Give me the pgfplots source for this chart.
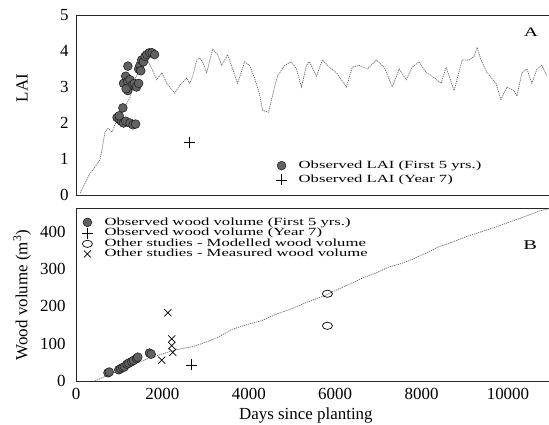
\documentclass[border=0pt]{standalone}
\usepackage{fontspec}
\setmainfont{Liberation Serif}
\newfontfamily\legfont[FakeStretch=1.52]{Liberation Serif}
\usepackage{pgfplots}
\pgfplotsset{compat=1.18}

\newcommand{\leggap}{\hspace*{11bp}}

\pgfplotsset{
  panel/.style={
    scale only axis, width=473bp, xmin=0, xmax=10950,
    axis line style={black!85, line width=0.9bp},
    major tick length=0pt,
    scaled x ticks=false,
    tick label style={font=\fontsize{17}{17}\selectfont},
    /pgf/number format/assume math mode=true,
    /pgf/number format/set thousands separator={},
    label style={font=\fontsize{17}{17}\selectfont},
    legend cell align=left,
    legend style={draw=none, fill=none, inner sep=0pt, outer sep=0pt,
      font=\legfont\fontsize{11}{10.5}\selectfont,
      nodes={text height=7bp, text depth=1.5bp, inner sep=0.6bp}},
  },
  model/.style={black!60, line width=0.7bp, dash pattern=on 1.2bp off 0.9bp, forget plot},
  obsdot/.style={only marks, mark=*, mark size=4.4bp,
    mark options={fill=black!62, draw=black!90, line width=0.5bp}},
  obsplus/.style={only marks, mark=+, mark size=5.5bp, mark options={black, line width=0.7bp}},
}

\begin{document}
\begin{tikzpicture}
\useasboundingbox (0,0) rectangle (549bp,425bp);

% ---- A: LAI ----
\begin{axis}[panel, at={(76bp,230bp)}, anchor=south west, height=180bp,
  ymin=0, ymax=5, ytick={0,1,2,3,4,5}, xtick=\empty,
  yticklabel style={xshift=-4bp},
  ylabel={LAI},
  ylabel style={at={(axis description cs:-0.114,0.594)}, anchor=center},
  legend style={at={(rel axis cs:0.423,0.19)}, anchor=north west, row sep=4bp},
]
\addplot[model] coordinates {
  (92,0.05) (323,0.6) (393,0.7) (554,0.97) (600,1.25) (670,1.75) (739,1.85)
  (831,1.75) (901,1.95) (1062,2.3) (1247,2.7) (1293,3.1) (1524,3.55) (1640,3.8)
  (1755,3.5) (1871,3.2) (1986,3.4) (2102,3.1) (2286,2.83) (2402,3.05) (2564,3.25)
  (2633,3.1) (2702,3.3) (2794,3.75) (2864,3.8) (2933,3.7) (3025,3.4) (3164,4.05)
  (3279,3.9) (3372,3.6) (3510,3.9) (3626,3.5) (3741,3.1) (3903,3.7) (4018,3.6)
  (4134,3.25) (4249,2.8) (4319,2.35) (4457,2.3) (4596,3.0) (4665,3.3) (4827,3.6)
  (4988,3.7) (5104,3.5) (5219,3.0) (5335,3.6) (5404,3.7) (5566,3.3) (5704,3.75)
  (5866,3.55) (6028,3.4) (6259,3.0) (6397,3.55) (6559,3.6) (6744,3.5) (6952,3.75)
  (7136,3.55) (7321,3.0) (7483,3.5) (7644,3.2) (7783,3.55) (7945,3.7) (8106,3.4)
  (8245,3.3) (8453,3.1) (8568,3.55) (8753,2.9) (8938,3.75) (9099,3.75) (9215,3.85)
  (9284,4.1) (9376,3.75) (9515,3.4) (9723,3.1) (9838,2.65) (9977,3.0) (10139,2.9)
  (10208,2.75) (10323,3.4) (10439,3.5) (10554,3.1) (10670,3.5) (10785,3.6) (10901,3.3)
};
\addplot[obsdot] coordinates {
  (950,2.15) (1000,2.1) (1050,2.05) (1100,2.0) (1150,2.05) (1250,2.0) (1320,1.95)
  (1380,1.97) (1000,2.2) (1085,2.42) (1201,3.58)
  (1100,3.1) (1150,3.3) (1200,3.15) (1250,3.2) (1300,3.05) (1350,3.1) (1400,3.0)
  (1450,3.1) (1200,2.9) (1160,2.95)
  (1450,3.5) (1480,3.6) (1520,3.75) (1560,3.7) (1600,3.85) (1640,3.9) (1700,3.95)
  (1760,3.95) (1820,3.9) (1500,3.45)
};
\addplot[obsplus] coordinates {(2633,1.47)};
\legend{\leggap Observed LAI (First 5 yrs.), \leggap Observed LAI (Year 7)}
\node[font=\legfont\fontsize{13}{13}\selectfont] at (rel axis cs:0.962,0.906) {A};
\end{axis}

% ---- B: wood volume ----
\begin{axis}[panel, at={(76bp,44bp)}, anchor=south west, height=173bp,
  ymin=0, ymax=464, ytick={0,100,200,300,400},
  xtick={0,2000,4000,6000,8000,10000},
  yticklabel style={xshift=-7bp},
  xticklabel style={yshift=-4bp},
  xlabel={Days since planting},
  xlabel style={at={(axis description cs:0.486,-0.197)}, anchor=center},
  ylabel={Wood volume (m\textsuperscript{3})},
  ylabel style={at={(axis description cs:-0.114,0.497)}, anchor=center},
  legend style={at={(rel axis cs:0.0125,0.945)}, anchor=north west, row sep=0.4bp},
]
\addplot[model] coordinates {
  (439,0) (700,14) (1000,28) (1300,42) (1600,57) (1900,69) (2200,80) (2450,87)
  (2700,92) (3000,104) (3300,118) (3600,138) (3950,151) (4300,162) (4650,180)
  (5000,194) (5300,209) (5500,218) (5750,229) (6030,244) (6300,258) (6630,276)
  (6950,290) (7250,306) (7500,314) (7780,326) (8100,343) (8400,360) (8700,372)
  (9030,387) (9400,401) (9720,413) (10000,425) (10320,438) (10550,448) (10720,456)
  (10950,462)
};
\addplot[obsdot] coordinates {
  (740,22) (770,24) (990,30) (1030,33) (1080,36) (1120,38) (1180,45) (1220,48)
  (1290,52) (1330,55) (1400,60) (1430,64) (1700,75) (1740,72)
};
\addplot[obsplus] coordinates {(2679,43)};
\addplot[only marks, mark=o, mark size=3.6bp, mark options={xscale=1.4, black, line width=0.7bp}]
  coordinates {(5820,234) (5820,148)};
\addplot[only marks, mark=x, mark size=5bp, mark options={black, line width=0.7bp}]
  coordinates {(2125,183) (2217,113) (2217,95) (1986,56) (2240,77)};
\legend{\leggap Observed wood volume (First 5 yrs.), \leggap Observed wood volume (Year 7),
  \leggap Other studies - Modelled wood volume, \leggap Other studies - Measured wood volume}
\node[font=\legfont\fontsize{13.5}{13.5}\selectfont] at (rel axis cs:0.96,0.786) {B};
\end{axis}
\end{tikzpicture}
\end{document}
